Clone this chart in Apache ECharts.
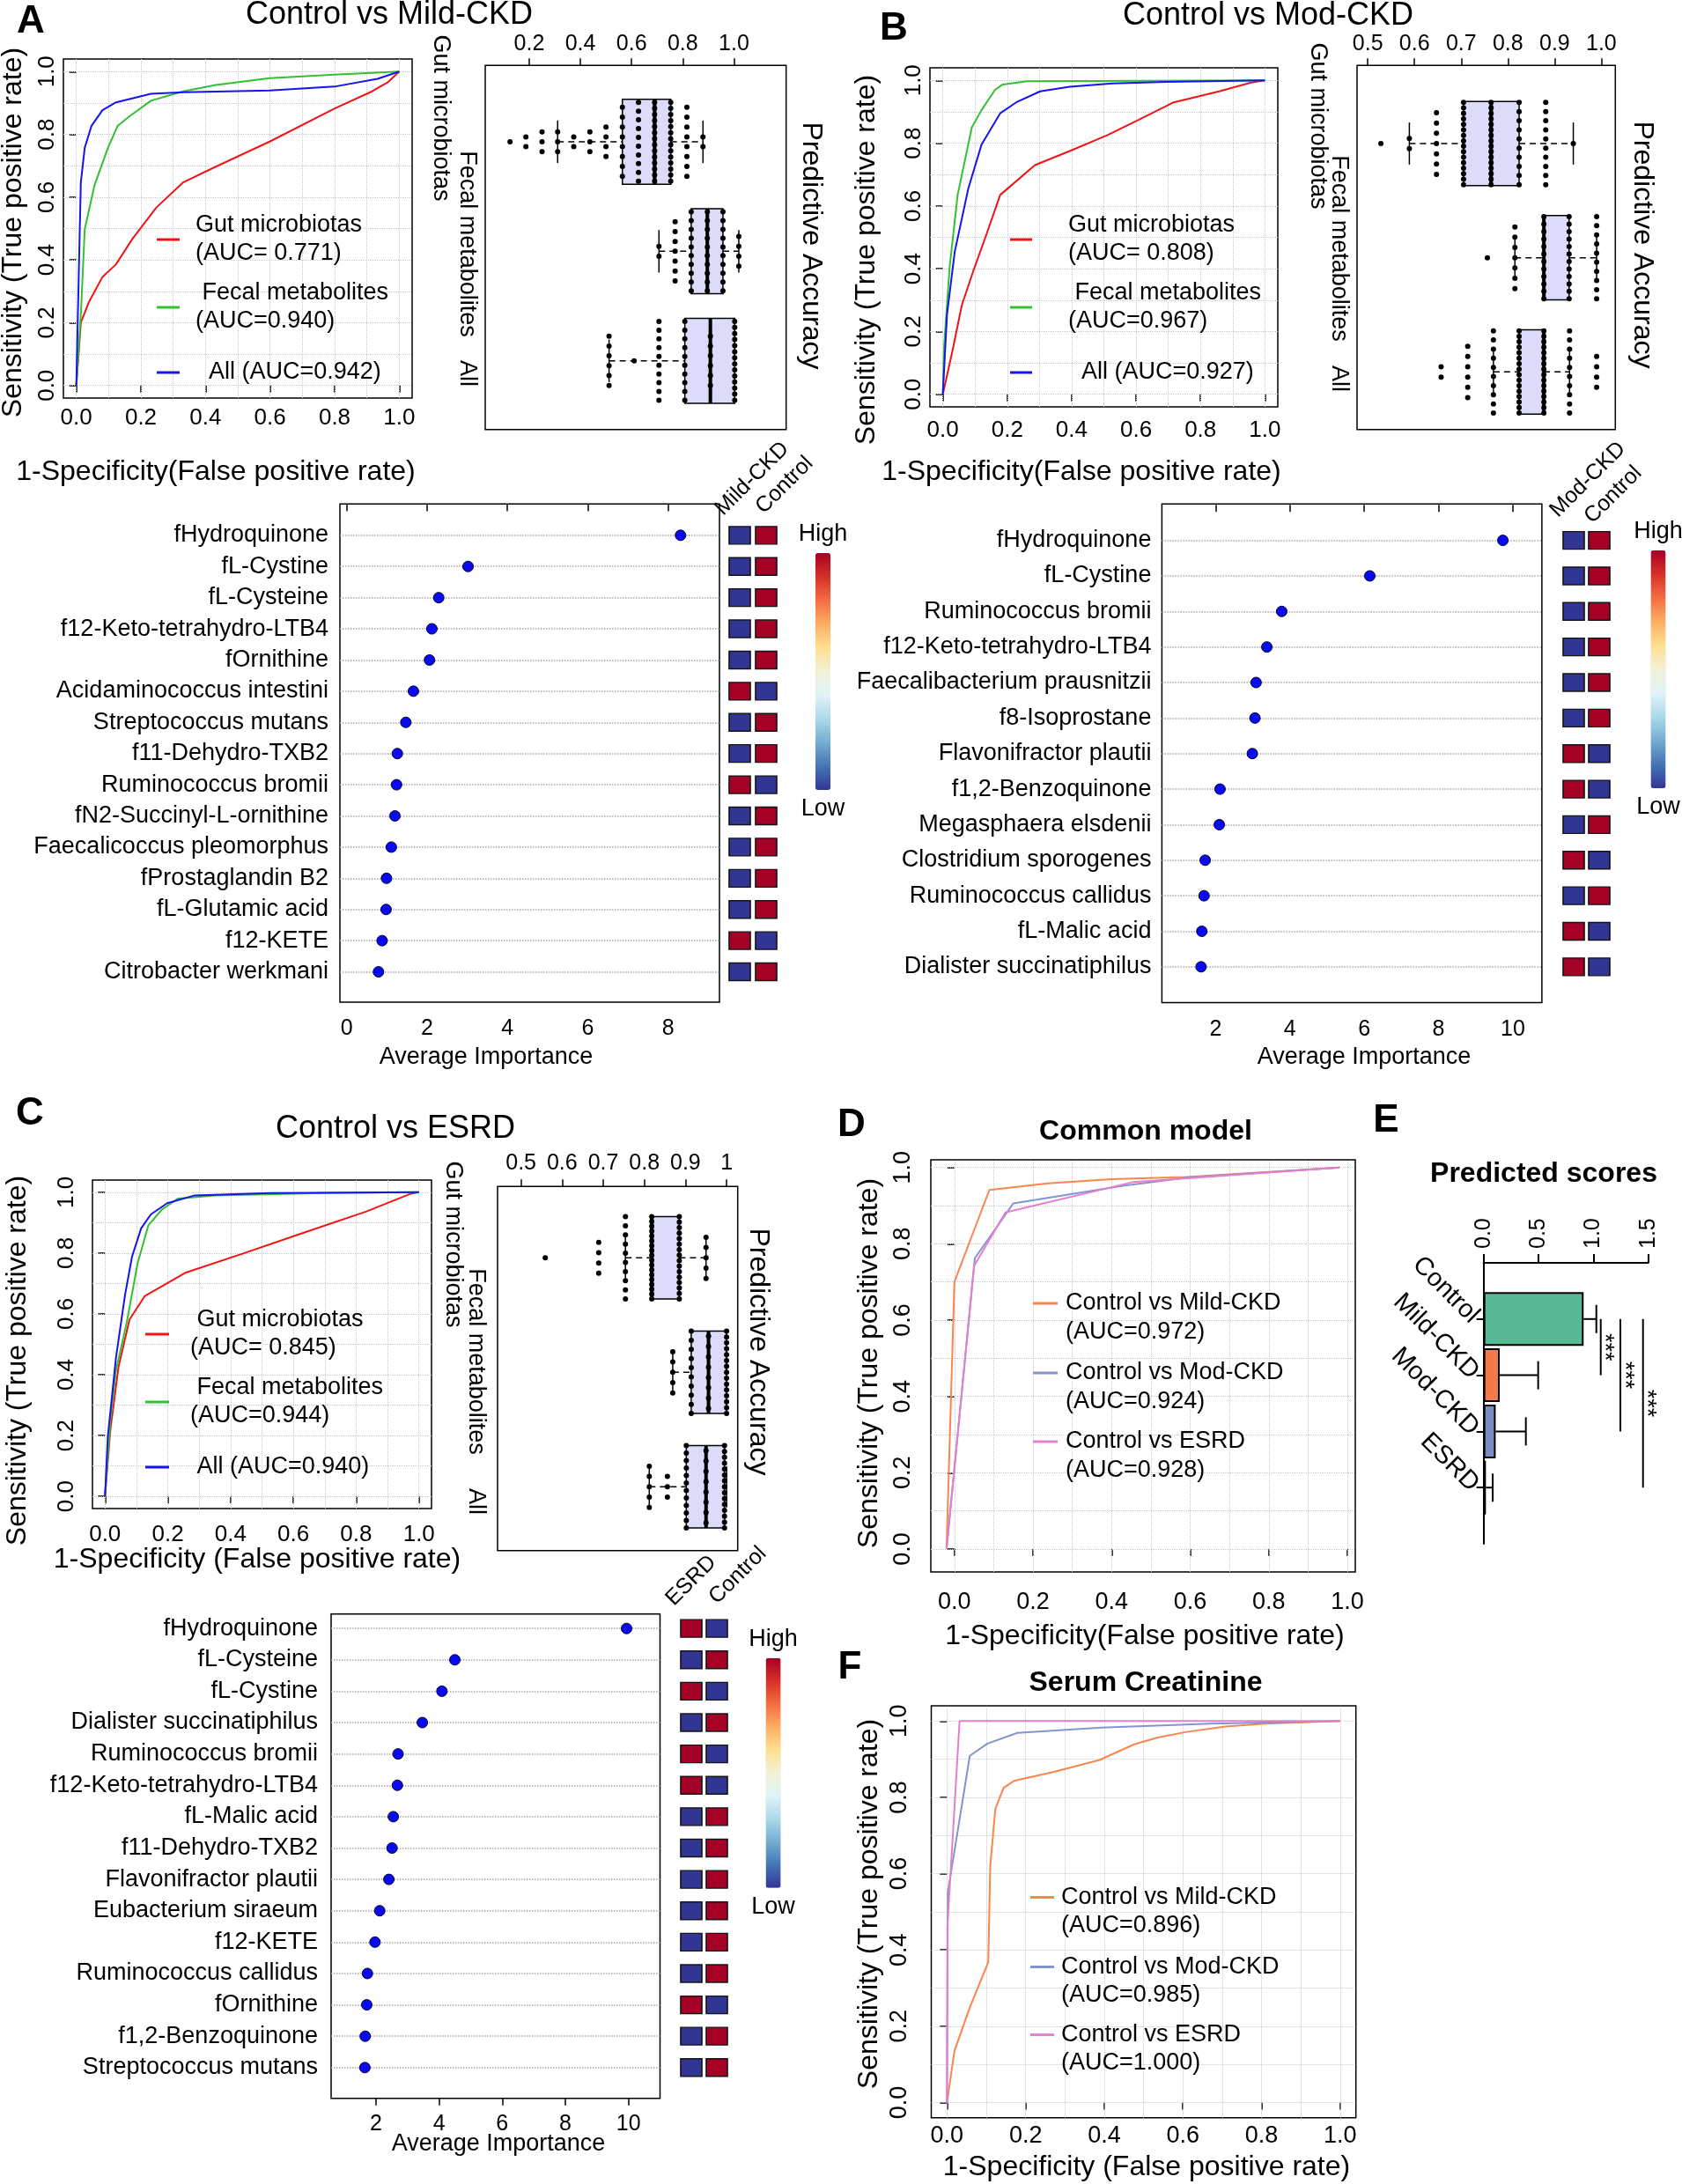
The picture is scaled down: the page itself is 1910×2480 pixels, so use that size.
<!DOCTYPE html>
<html><head><meta charset="utf-8">
<script src="https://cdn.jsdelivr.net/npm/echarts/dist/echarts.min.js"></script>
<style>html,body{margin:0;padding:0;background:#fff}#c{width:1910px;height:2480px}</style>
</head><body><div id="c"></div>
<script>
// ===================== DATA =====================
const rocTicks = [0, 0.2, 0.4, 0.6, 0.8, 1.0];
const rocGridVals = [0, 0.1, 0.2, 0.3, 0.4, 0.5, 0.6, 0.7, 0.8, 0.9, 1.0];

// Panel A – Control vs Mild-CKD
const rocA_gut = [[0,0],[0.014,0.20],[0.039,0.266],[0.081,0.346],[0.123,0.386],[0.173,0.466],[0.248,0.567],[0.331,0.647],[0.432,0.697],[0.599,0.777],[0.799,0.882],[0.916,0.937],[0.966,0.967],[1,1]];
const rocA_fecal = [[0,0],[0.014,0.226],[0.026,0.497],[0.056,0.637],[0.098,0.757],[0.128,0.827],[0.164,0.857],[0.231,0.907],[0.331,0.937],[0.432,0.957],[0.599,0.979],[0.799,0.99],[1,1]];
const rocA_all = [[0,0],[0.007,0.326],[0.014,0.647],[0.026,0.757],[0.047,0.827],[0.081,0.877],[0.123,0.902],[0.231,0.929],[0.331,0.934],[0.599,0.94],[0.799,0.952],[0.933,0.977],[1,1]];
const legendA = ['Gut microbiotas\n(AUC= 0.771)', ' Fecal metabolites\n(AUC=0.940)', '  All (AUC=0.942)'];

const boxNames = ['Gut microbiotas', 'Fecal metabolites', 'All'];
const boxA_ticks = [0.2, 0.4, 0.6, 0.8, 1.0];
// [group, whiskerLow, Q1, median, Q3, whiskerHigh]
const boxA_stats = [[1,0.311,0.564,0.690,0.753,0.879],[2,0.707,0.833,0.896,0.957,1.019],[3,0.512,0.808,0.908,1.003,1.003]];
// [accuracy, count of runs]
const dotsA_gut = [[0.125,1],[0.187,2],[0.25,3],[0.311,3],[0.374,2],[0.437,3],[0.5,4],[0.564,8],[0.627,10],[0.69,14],[0.753,14],[0.816,8],[0.879,2]];
const dotsA_fecal = [[0.707,2],[0.77,7],[0.833,10],[0.896,10],[0.957,10],[1.019,4]];
const dotsA_all = [[0.512,6],[0.61,1],[0.707,10],[0.808,10],[0.908,6],[1.003,14]];

const impA_names = ['fHydroquinone','fL-Cystine','fL-Cysteine','f12-Keto-tetrahydro-LTB4','fOrnithine','Acidaminococcus intestini','Streptococcus mutans','f11-Dehydro-TXB2','Ruminococcus bromii','fN2-Succinyl-L-ornithine','Faecalicoccus pleomorphus','fProstaglandin B2','fL-Glutamic acid','f12-KETE','Citrobacter werkmani'];
const impA_vals = [8.31,3.02,2.29,2.12,2.06,1.66,1.47,1.26,1.24,1.20,1.11,0.99,0.98,0.88,0.79];
const impA_ticks = [0,2,4,6,8];
const heatA_cols = ['Mild-CKD','Control'];
const heatA_case = [0,0,0,0,0,1,0,0,1,0,0,0,0,1,0];
const heatA_ctrl = [1,1,1,1,1,0,1,1,0,1,1,1,1,0,1];

// Panel B – Control vs Mod-CKD
const rocB_gut = [[0,0],[0.029,0.134],[0.059,0.284],[0.095,0.394],[0.137,0.514],[0.178,0.635],[0.286,0.73],[0.394,0.775],[0.51,0.825],[0.609,0.875],[0.717,0.93],[0.858,0.965],[0.957,0.993],[1,1]];
const rocB_fecal = [[0,0],[0.004,0.154],[0.021,0.404],[0.046,0.635],[0.09,0.85],[0.12,0.905],[0.162,0.97],[0.186,0.987],[0.261,0.997],[1,1]];
const rocB_all = [[0,0],[0.013,0.254],[0.037,0.454],[0.079,0.655],[0.12,0.795],[0.178,0.895],[0.228,0.93],[0.302,0.965],[0.394,0.98],[0.526,0.99],[0.692,0.995],[1,1]];
const legendB = ['Gut microbiotas\n(AUC= 0.808)', ' Fecal metabolites\n(AUC=0.967)', '  All (AUC=0.927)'];

const boxB_ticks = [0.5, 0.6, 0.7, 0.8, 0.9, 1.0];
const boxB_stats = [[1,0.589,0.705,0.764,0.824,0.94],[2,0.815,0.877,0.877,0.931,0.99],[3,0.769,0.824,0.877,0.877,0.932]];
const dotsB_gut = [[0.528,1],[0.589,2],[0.647,7],[0.705,16],[0.764,16],[0.824,10],[0.881,10],[0.94,1]];
const dotsB_fecal = [[0.756,1],[0.815,7],[0.877,12],[0.931,12],[0.99,10]];
const dotsB_all = [[0.657,2],[0.714,6],[0.769,10],[0.824,16],[0.877,16],[0.932,10],[0.99,4]];

const impB_names = ['fHydroquinone','fL-Cystine','Ruminococcus bromii','f12-Keto-tetrahydro-LTB4','Faecalibacterium prausnitzii','f8-Isoprostane','Flavonifractor plautii','f1,2-Benzoquinone','Megasphaera elsdenii','Clostridium sporogenes','Ruminococcus callidus','fL-Malic acid','Dialister succinatiphilus'];
const impB_vals = [9.73,6.15,3.78,3.38,3.09,3.06,2.99,2.12,2.10,1.72,1.69,1.63,1.61];
const impB_ticks = [2,4,6,8,10];
const heatB_cols = ['Mod-CKD','Control'];
const heatB_case = [0,0,0,0,0,0,1,1,0,1,0,1,1];
const heatB_ctrl = [1,1,1,1,1,1,0,0,1,0,1,0,0];

// Panel C – Control vs ESRD
const rocC_gut = [[0,0],[0.017,0.219],[0.043,0.426],[0.078,0.581],[0.126,0.658],[0.258,0.736],[0.438,0.798],[0.627,0.865],[0.833,0.937],[0.971,0.994],[1,1]];
const rocC_fecal = [[0,0],[0.017,0.25],[0.035,0.415],[0.069,0.571],[0.104,0.767],[0.138,0.891],[0.181,0.943],[0.232,0.979],[0.352,0.989],[0.696,0.997],[1,1]];
const rocC_all = [[0,0],[0.009,0.198],[0.035,0.457],[0.064,0.664],[0.086,0.788],[0.115,0.881],[0.146,0.927],[0.198,0.964],[0.284,0.989],[0.524,0.997],[1,1]];
const legendC = [' Gut microbiotas\n(AUC= 0.845)', ' Fecal metabolites\n(AUC=0.944)', ' All (AUC=0.940)'];

const boxC_ticks = [0.5, 0.6, 0.7, 0.8, 0.9, 1.0];
const boxC_stats = [[1,0.754,0.818,0.818,0.885,0.95],[2,0.869,0.914,0.956,1.0,1.0],[3,0.812,0.902,0.95,0.995,1.0]];
const dotsC_gut = [[0.559,1],[0.689,4],[0.754,10],[0.818,18],[0.885,16],[0.95,5]];
const dotsC_fecal = [[0.869,5],[0.914,10],[0.956,8],[1.0,15]];
const dotsC_all = [[0.812,5],[0.856,3],[0.902,12],[0.95,8],[0.995,15]];

const impC_names = ['fHydroquinone','fL-Cysteine','fL-Cystine','Dialister succinatiphilus','Ruminococcus bromii','f12-Keto-tetrahydro-LTB4','fL-Malic acid','f11-Dehydro-TXB2','Flavonifractor plautii','Eubacterium siraeum','f12-KETE','Ruminococcus callidus','fOrnithine','f1,2-Benzoquinone','Streptococcus mutans'];
const impC_vals = [9.94,4.50,4.09,3.47,2.70,2.68,2.55,2.51,2.41,2.12,1.97,1.73,1.71,1.66,1.65];
const impC_ticks = [2,4,6,8,10];
const heatC_cols = ['ESRD','Control'];
const heatC_case = [1,0,1,0,1,1,0,0,0,0,0,0,1,0,0];
const heatC_ctrl = [0,1,0,1,0,0,1,1,1,1,1,1,0,1,1];

// Panel D – Common model
const rocD_mild = [[-0.02,0],[0,0.70],[0.089,0.941],[0.238,0.958],[0.40,0.969],[0.59,0.975],[0.98,1]];
const rocD_mod = [[-0.02,0],[0.052,0.762],[0.15,0.906],[0.429,0.952],[0.592,0.973],[0.98,1]];
const rocD_esrd = [[-0.02,0],[0.05,0.742],[0.13,0.882],[0.456,0.962],[0.98,1]];
const legendD = ['Control vs Mild-CKD\n(AUC=0.972)', 'Control vs Mod-CKD\n(AUC=0.924)', 'Control vs ESRD\n(AUC=0.928)'];

// Panel E – Predicted scores
const scoreCats = ['Control','Mild-CKD','Mod-CKD','ESRD'];
const scoreMeans = [0.911, 0.147, 0.110, 0.021];
const scoreSD = [0.116, 0.350, 0.275, 0.062];
// [x position, from category #, to category #]
const sigLines = [[1.067,1,2],[1.246,1,3],[1.452,1,4]];

// Panel F – Serum Creatinine
const rocF_mild = [[0,0],[0.019,0.135],[0.058,0.249],[0.105,0.368],[0.11,0.62],[0.123,0.77],[0.144,0.825],[0.17,0.843],[0.272,0.867],[0.388,0.898],[0.476,0.939],[0.536,0.957],[0.606,0.971],[0.708,0.986],[0.81,0.993],[1,1]];
const rocF_mod = [[0,0],[0.002,0.55],[0.058,0.909],[0.103,0.941],[0.179,0.969],[0.393,0.983],[0.671,0.993],[1,1]];
const rocF_esrd = [[0,0],[0.001,0.46],[0.032,1],[1,1]];
const legendF = ['Control vs Mild-CKD\n(AUC=0.896)', 'Control vs Mod-CKD\n(AUC=0.985)', 'Control vs ESRD\n(AUC=1.000)'];

// ===================== STYLE =====================
const FONT = '"Liberation Sans", Arial, sans-serif';
const C_RED = '#f01414', C_GREEN = '#33c033', C_BLUE = '#1414f0';
const C_OR = '#f8864f', C_LB = '#8394d0', C_PK = '#e47fcd';
const BAR_COLORS = ['#58b994', '#f47a4e', '#7a8ec6', '#6a2c4c'];
const RDYLBU = ['#313695','#4575b4','#74add1','#abd9e9','#e0f3f8','#f2f1d6','#fee090','#fdae61','#f46d43','#d73027','#a50026'];

const series = [], grids = [], xAxes = [], yAxes = [], graphic = [], visualMap = [];
const nz = v => (v === 0 ? 1e-9 : v);

function addGrid(r, border) {
  grids.push({left: r[0], top: r[1], width: r[2], height: r[3], show: border, borderColor: '#000', borderWidth: 1.5, backgroundColor: 'rgba(0,0,0,0)'});
  return grids.length - 1;
}
function text(x, y, s, size, o) {
  o = o || {};
  const al = o.align || 'center', va = o.va || 'middle';
  graphic.push({type: 'text', x: x, y: y, rotation: o.rot || 0, silent: true, z: 50,
    style: {text: s, fill: '#000', font: (o.bold ? 'bold ' : '') + size + 'px ' + FONT,
      align: al, verticalAlign: va, textAlign: al, textVerticalAlign: va, lineHeight: o.lh || Math.round(size * 1.2)}});
}
function lab(extra) {
  return Object.assign({color: '#000', fontFamily: FONT, showMinLabel: true, showMaxLabel: true}, extra);
}

function rocPanel(cfg) {
  const gi = addGrid(cfg.rect, true);
  const tick = {show: true, customValues: rocTicks, length: 8, lineStyle: {color: '#000', width: 1.5}};
  const fmt = v => v.toFixed(1);
  xAxes.push({type: 'value', gridIndex: gi, min: cfg.xr[0], max: cfg.xr[1], axisLine: {show: false}, splitLine: {show: false},
    axisTick: tick, axisLabel: lab({customValues: rocTicks, formatter: fmt, fontSize: cfg.fs, margin: cfg.xm})});
  yAxes.push({type: 'value', gridIndex: gi, min: cfg.yr[0], max: cfg.yr[1], axisLine: {show: false}, splitLine: {show: false},
    axisTick: tick, axisLabel: lab({customValues: rocTicks, formatter: fmt, fontSize: cfg.fs, margin: cfg.ym, rotate: 90})});
  cfg.curves.forEach((c, k) => {
    const s = {type: 'line', xAxisIndex: gi, yAxisIndex: gi, data: c.data, symbol: 'none', silent: true,
      lineStyle: {color: c.color, width: 2}, itemStyle: {color: c.color}, z: 3};
    if (k === 0) {
      s.markLine = {silent: true, symbol: ['none', 'none'], label: {show: false}, z: 1, animation: false,
        lineStyle: {color: '#c8c8c8', type: 'dotted', width: 1},
        data: rocGridVals.map(v => ({xAxis: nz(v)})).concat(rocGridVals.map(v => ({yAxis: nz(v)})))};
    }
    series.push(s);
  });
  const L = cfg.legend;
  cfg.curves.forEach((c, i) => {
    const y = L.ys[i];
    graphic.push({type: 'line', silent: true, z: 50, shape: {x1: L.x0, y1: y, x2: L.x1, y2: y}, style: {stroke: c.color, lineWidth: 3}});
    const n = L.labels[i].split('\n').length;
    const cy = L.firstLine ? y + (n - 1) * L.lh / 2 : y;
    text(L.tx, cy, L.labels[i], 27, {align: 'left', lh: L.lh});
  });
}

function boxRender(halfH) {
  return function (params, api) {
    const g = api.value(0), lo = api.value(1), q1 = api.value(2), med = api.value(3), q3 = api.value(4), hi = api.value(5);
    const c = (x, y) => api.coord([x, y]);
    const yc = c(q1, g)[1];
    const ya = c(q1, g - halfH)[1], yb = c(q1, g + halfH)[1];
    const sa = c(q1, g - halfH / 2)[1], sb = c(q1, g + halfH / 2)[1];
    const xlo = c(lo, g)[0], xq1 = c(q1, g)[0], xmed = c(med, g)[0], xq3 = c(q3, g)[0], xhi = c(hi, g)[0];
    const top = Math.min(ya, yb), h = Math.abs(yb - ya);
    const blk = {stroke: '#000', lineWidth: 1.5};
    return {type: 'group', children: [
      {type: 'line', shape: {x1: xlo, y1: yc, x2: xq1, y2: yc}, style: {stroke: '#000', lineWidth: 1.5, lineDash: [7, 5]}},
      {type: 'line', shape: {x1: xq3, y1: yc, x2: xhi, y2: yc}, style: {stroke: '#000', lineWidth: 1.5, lineDash: [7, 5]}},
      {type: 'line', shape: {x1: xlo, y1: sa, x2: xlo, y2: sb}, style: blk},
      {type: 'line', shape: {x1: xhi, y1: sa, x2: xhi, y2: sb}, style: blk},
      {type: 'rect', shape: {x: xq1, y: top, width: xq3 - xq1, height: h}, style: {fill: '#dcdcfa', stroke: '#000', lineWidth: 1.5}},
      {type: 'line', shape: {x1: xmed, y1: top, x2: xmed, y2: top + h}, style: {stroke: '#000', lineWidth: 4}}
    ]};
  };
}

function boxPanel(cfg) {
  const gi = addGrid(cfg.rect, true);
  xAxes.push({type: 'value', gridIndex: gi, position: 'top', min: cfg.xr[0], max: cfg.xr[1], axisLine: {show: false}, splitLine: {show: false},
    axisTick: {show: true, customValues: cfg.ticks, length: 8, lineStyle: {color: '#000', width: 1.5}},
    axisLabel: lab({customValues: cfg.ticks, formatter: cfg.fmt, fontSize: 25, margin: cfg.xm})});
  yAxes.push({type: 'value', gridIndex: gi, inverse: true, min: cfg.yr[0], max: cfg.yr[1], axisLine: {show: false}, splitLine: {show: false},
    axisTick: {show: false}, axisLabel: {show: false}});
  series.push({type: 'custom', xAxisIndex: gi, yAxisIndex: gi, data: cfg.stats, encode: {x: [1, 2, 3, 4, 5], y: 0},
    renderItem: boxRender(cfg.halfH), clip: false, silent: true, z: 2});
  const pts = [];
  cfg.dots.forEach((cols, gIdx) => cols.forEach(([v, n]) => {
    const span = Math.min(0.72, 0.09 * (n - 1));
    for (let i = 0; i < n; i++) pts.push([v, gIdx + 1 + (n > 1 ? -span / 2 + i * span / (n - 1) : 0)]);
  }));
  series.push({type: 'scatter', xAxisIndex: gi, yAxisIndex: gi, data: pts, symbolSize: 6, itemStyle: {color: '#000', opacity: 1}, silent: true, z: 4});
  cfg.names.forEach((p, i) => text(p[0], p[1], boxNames[i], 27, {rot: -Math.PI / 2}));
}

function impPanel(cfg) {
  const gi = addGrid(cfg.rect, true);
  const rows = cfg.names.map((_, i) => i + 1);   // row numbers, top = 1
  xAxes.push({type: 'value', gridIndex: gi, min: cfg.xr[0], max: cfg.xr[1], axisLine: {show: false}, splitLine: {show: false},
    axisTick: {show: true, customValues: cfg.ticks, length: 8, lineStyle: {color: '#000', width: 1.5}},
    axisLabel: lab({customValues: cfg.ticks, fontSize: 25, margin: cfg.xm})});
  yAxes.push({type: 'value', gridIndex: gi, inverse: true, min: cfg.yr[0], max: cfg.yr[1], axisLine: {show: false}, splitLine: {show: false},
    axisTick: {show: false},
    axisLabel: lab({customValues: rows, formatter: v => cfg.names[Math.round(v) - 1] || '', fontSize: 27, margin: cfg.ym})});
  series.push({type: 'scatter', xAxisIndex: gi, yAxisIndex: gi, data: cfg.vals.map((v, i) => [v, i + 1]), symbolSize: 12,
    itemStyle: {color: '#0a0af2', borderColor: '#00002a', borderWidth: 1, opacity: 1}, silent: true, z: 4,
    markLine: {silent: true, symbol: ['none', 'none'], label: {show: false}, z: 1, animation: false,
      lineStyle: {color: '#a8a8a8', type: 'dotted', width: 1.5}, data: rows.map(r => ({yAxis: r}))}});
  const hi = addGrid(cfg.heatRect, false);
  xAxes.push({type: 'value', gridIndex: hi, min: -0.5, max: 1.5, show: false});
  yAxes.push({type: 'value', gridIndex: hi, inverse: true, min: cfg.yr[0], max: cfg.yr[1], show: false});
  const hd = [];
  cfg.heatCase.forEach((v, i) => { hd.push([0, i + 1, v]); hd.push([1, i + 1, cfg.heatCtrl[i]]); });
  series.push({type: 'scatter', xAxisIndex: hi, yAxisIndex: hi, data: hd, symbol: 'rect', symbolSize: [24, 20],
    itemStyle: {borderColor: '#151515', borderWidth: 1.5, opacity: 1}, silent: true, z: 4});
  visualMap.push({type: 'continuous', seriesIndex: series.length - 1, dimension: 2, min: 0, max: 1, calculable: false,
    left: cfg.vm[0], top: cfg.vm[1], itemWidth: 17, itemHeight: cfg.vm[2], text: ['High', 'Low'], textGap: 8, padding: 0,
    hoverLink: false, textStyle: {fontSize: 27, color: '#000', fontFamily: FONT}, inRange: {color: RDYLBU, opacity: 1}});
  cfg.heads.forEach(h => text(h[1], h[2], h[0], 25, {align: 'left', va: 'bottom', rot: Math.PI / 4}));
}

// ===================== BUILD =====================
const fmt1 = v => v.toFixed(1);
const fmtC = v => (Math.abs(v - 1) < 1e-9 ? '1' : v.toFixed(1));

rocPanel({rect: [72, 67, 396, 385], xr: [-0.04, 1.04], yr: [-0.04, 1.04], fs: 26, xm: 10, ym: 5,
  curves: [{data: rocA_gut, color: C_RED}, {data: rocA_fecal, color: C_GREEN}, {data: rocA_all, color: C_BLUE}],
  legend: {x0: 178, x1: 204, tx: 222, ys: [272, 349, 423], labels: legendA, lh: 32, firstLine: false}});
boxPanel({rect: [551, 74.3, 341.7, 413.4], xr: [0.028, 1.204], yr: [0.303, 3.627], ticks: boxA_ticks, fmt: fmt1, xm: 12,
  stats: boxA_stats, dots: [dotsA_gut, dotsA_fecal, dotsA_all], halfH: 0.388,
  names: [[500, 134], [530, 277], [530, 424]]});
impPanel({rect: [386, 572.2, 431, 565.7], xr: [-0.17, 9.28], yr: [-0.006, 15.97], ticks: impA_ticks, xm: 18, ym: 13,
  names: impA_names, vals: impA_vals, heatRect: [825, 572.2, 60, 565.7], heatCase: heatA_case, heatCtrl: heatA_ctrl,
  vm: [906.75, 593, 269], heads: [[heatA_cols[0], 827, 592], [heatA_cols[1], 873, 590]]});

rocPanel({rect: [1056, 77, 395, 385], xr: [-0.04, 1.04], yr: [-0.04, 1.04], fs: 26, xm: 14, ym: 5,
  curves: [{data: rocB_gut, color: C_RED}, {data: rocB_fecal, color: C_GREEN}, {data: rocB_all, color: C_BLUE}],
  legend: {x0: 1147, x1: 1172, tx: 1213, ys: [272, 349, 423], labels: legendB, lh: 32, firstLine: false}});
boxPanel({rect: [1541, 74.3, 293.3, 413.4], xr: [0.477, 1.03], yr: [0.316, 3.504], ticks: boxB_ticks, fmt: fmt1, xm: 12,
  stats: boxB_stats, dots: [dotsB_gut, dotsB_fecal, dotsB_all], halfH: 0.369,
  names: [[1496, 143], [1520, 282], [1520, 430]]});
impPanel({rect: [1319.4, 572.2, 431.5, 566.4], xr: [0.556, 10.78], yr: [-0.026, 14.01], ticks: impB_ticks, xm: 18, ym: 12,
  names: impB_names, vals: impB_vals, heatRect: [1772.5, 572.2, 58, 566.4], heatCase: heatB_case, heatCtrl: heatB_ctrl,
  vm: [1855.25, 590, 270], heads: [[heatB_cols[0], 1775, 594], [heatB_cols[1], 1814, 601]]});

rocPanel({rect: [105, 1340, 385, 373], xr: [-0.04, 1.04], yr: [-0.04, 1.04], fs: 26, xm: 17, ym: 16,
  curves: [{data: rocC_gut, color: C_RED}, {data: rocC_fecal, color: C_GREEN}, {data: rocC_all, color: C_BLUE}],
  legend: {x0: 165, x1: 192, tx: 216, ys: [1515, 1592, 1666], labels: legendC, lh: 32, firstLine: false}});
boxPanel({rect: [565, 1347.3, 272.7, 413.4], xr: [0.443, 1.027], yr: [0.377, 3.557], ticks: boxC_ticks, fmt: fmtC, xm: 14,
  stats: boxC_stats, dots: [dotsC_gut, dotsC_fecal, dotsC_all], halfH: 0.36,
  names: [[514, 1413], [540, 1546], [540, 1705]]});
impPanel({rect: [376, 1832.7, 373.5, 550], xr: [0.58, 11.0], yr: [0.537, 15.98], ticks: impC_ticks, xm: 17, ym: 15,
  names: impC_names, vals: impC_vals, heatRect: [770.5, 1832.7, 58, 550], heatCase: heatC_case, heatCtrl: heatC_ctrl,
  vm: [850.3, 1847.7, 261], heads: [[heatC_cols[0], 771, 1830], [heatC_cols[1], 820, 1828]]});

rocPanel({rect: [1057, 1317, 482, 468], xr: [-0.06, 1.02], yr: [-0.06, 1.02], fs: 27, xm: 21, ym: 18,
  curves: [{data: rocD_mild, color: C_OR}, {data: rocD_mod, color: C_LB}, {data: rocD_esrd, color: C_PK}],
  legend: {x0: 1173, x1: 1201, tx: 1210, ys: [1480, 1559, 1637], labels: legendD, lh: 33, firstLine: true}});

rocPanel({rect: [1057.5, 1937, 482.2, 467.7], xr: [-0.04, 1.04], yr: [-0.04, 1.04], fs: 27, xm: 7, ym: 22,
  curves: [{data: rocF_mild, color: C_OR}, {data: rocF_mod, color: C_LB}, {data: rocF_esrd, color: C_PK}],
  legend: {x0: 1170, x1: 1197, tx: 1205, ys: [2154.5, 2233.5, 2310.6], labels: legendF, lh: 32, firstLine: true}});

(function () {
  const gi = addGrid([1684.7, 1434, 187, 319], false);
  const axisCats = [''].concat(scoreCats).concat([' ']);
  const isCat = (i, v) => String(v).trim() !== '';
  xAxes.push({type: 'value', gridIndex: gi, position: 'top', min: 0, max: 1.5, interval: 0.5, splitLine: {show: false},
    axisLine: {show: true, lineStyle: {color: '#000', width: 2}},
    axisTick: {show: true, length: 10, lineStyle: {color: '#000', width: 2}},
    axisLabel: lab({formatter: v => v.toFixed(1), rotate: -90, fontSize: 25, margin: 16})});
  yAxes.push({type: 'category', gridIndex: gi, inverse: true, boundaryGap: false, data: axisCats,
    axisLine: {show: true, onZero: false, lineStyle: {color: '#000', width: 2}},
    axisTick: {show: true, length: 8, interval: isCat, lineStyle: {color: '#000', width: 2}},
    axisLabel: {interval: isCat, rotate: -45, fontSize: 29, margin: 10, color: '#000', fontFamily: FONT}});
  series.push({type: 'bar', xAxisIndex: gi, yAxisIndex: gi, barWidth: 61, silent: true, z: 3,
    data: scoreMeans.map((m, i) => ({value: [m, i + 1], itemStyle: {color: BAR_COLORS[i]}})),
    itemStyle: {borderColor: '#000', borderWidth: 2}});
  series.push({type: 'custom', xAxisIndex: gi, yAxisIndex: gi, clip: false, silent: true, z: 5, encode: {x: 0, y: 1},
    data: scoreMeans.map((m, i) => [m + scoreSD[i], i + 1, m]),
    renderItem: function (p, api) {
      const hi = api.coord([api.value(0), api.value(1)]);
      const lo = api.coord([api.value(2), api.value(1)]);
      return {type: 'group', children: [
        {type: 'line', shape: {x1: lo[0], y1: lo[1], x2: hi[0], y2: hi[1]}, style: {stroke: '#000', lineWidth: 2}},
        {type: 'line', shape: {x1: hi[0], y1: hi[1] - 16, x2: hi[0], y2: hi[1] + 16}, style: {stroke: '#000', lineWidth: 2}}]};
    }});
  series.push({type: 'custom', xAxisIndex: gi, yAxisIndex: gi, clip: false, silent: true, z: 5, encode: {x: 0, y: [1, 2]},
    data: sigLines,
    renderItem: function (p, api) {
      const a = api.coord([api.value(0), api.value(1)]);
      const b = api.coord([api.value(0), api.value(2)]);
      return {type: 'group', children: [
        {type: 'line', shape: {x1: a[0], y1: a[1], x2: b[0], y2: b[1]}, style: {stroke: '#000', lineWidth: 2}},
        {type: 'text', x: a[0] + 4, y: (a[1] + b[1]) / 2, rotation: -Math.PI / 2,
          style: {text: '***', font: '27px ' + FONT, fill: '#000', align: 'center', verticalAlign: 'middle'}}]};
    }});
})();

// ===================== TEXT =====================
[['A', 35, 25], ['B', 1015, 33], ['C', 34, 1265], ['D', 967, 1278], ['E', 1574, 1273], ['F', 965, 1894]]
  .forEach(t => text(t[1], t[2], t[0], 44, {bold: true}));
text(442, 17, 'Control vs Mild-CKD', 36);
text(1440, 18, 'Control vs Mod-CKD', 36);
text(449, 1282, 'Control vs ESRD', 36);
text(1301, 1285, 'Common model', 32, {bold: true});
text(1753, 1333, 'Predicted scores', 32, {bold: true});
text(1301, 1911, 'Serum Creatinine', 32, {bold: true});

const RX = '1-Specificity(False positive rate)', RX2 = '1-Specificity (False positive rate)', RY = 'Sensitivity (True positive rate)';
text(245, 536, RX, 32); text(15, 264, RY, 32, {rot: Math.PI / 2});
text(1228, 536, RX, 32); text(984, 295, RY, 32, {rot: Math.PI / 2});
text(292, 1771, RX2, 32); text(20, 1545, RY, 32, {rot: Math.PI / 2});
text(1300, 1858, RX, 32); text(987, 1548, RY, 32, {rot: Math.PI / 2});
text(1302, 2461, RX2, 32); text(987, 2162, RY, 32, {rot: Math.PI / 2});
text(921, 279, 'Predictive Accuracy', 32, {rot: -Math.PI / 2});
text(1865, 278, 'Predictive Accuracy', 32, {rot: -Math.PI / 2});
text(861, 1535, 'Predictive Accuracy', 32, {rot: -Math.PI / 2});
text(552, 1201, 'Average Importance', 27);
text(1549, 1201, 'Average Importance', 27);
text(566, 2435, 'Average Importance', 27);

// ===================== RENDER =====================
const chart = echarts.init(document.getElementById('c'), null, {renderer: 'canvas', width: 1910, height: 2480});
chart.setOption({
  backgroundColor: '#fff', animation: false,
  textStyle: {fontFamily: FONT},
  grid: grids, xAxis: xAxes, yAxis: yAxes, series: series, visualMap: visualMap, graphic: {elements: graphic}
});
</script></body></html>
